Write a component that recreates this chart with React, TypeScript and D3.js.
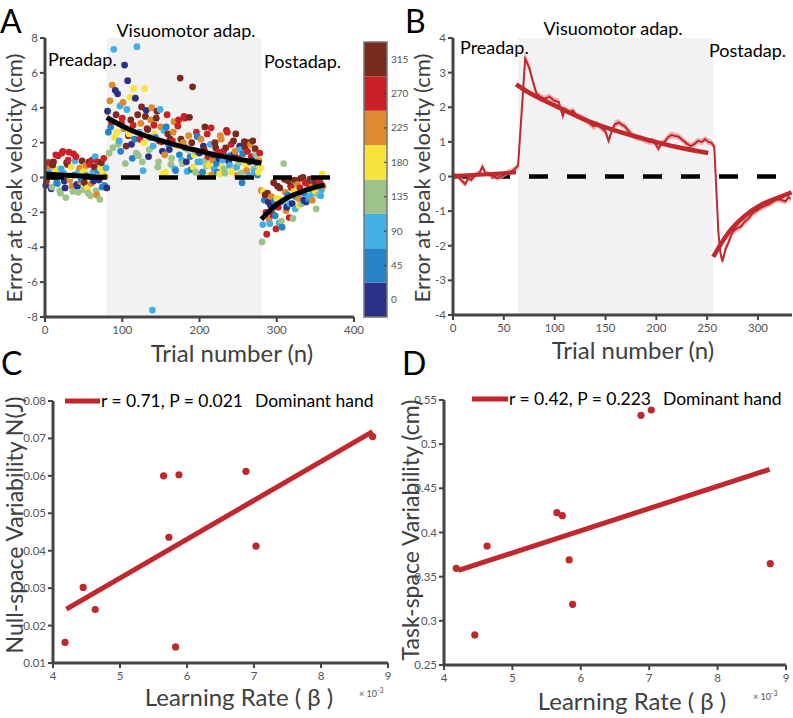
import React from 'react';
import * as d3 from 'd3';

const FONT = 'Lato, "Open Sans", sans-serif';
const AXIS = '#444';
const TICK_TEXT = '#555';
const RED = '#c1272d';

// * Panel A: single-trial errors, direction index 0..7
// odd trials 1..359
const trialsA = d3.range(1, 360, 2);
const errorA = [
  // preadaptation
  -0.45, 0.6, 0.85, 0.2, -0.55, 0.9, 0.35, -0.3, 1.25, -0.75,
  0.5, 1.5, -0.2, -1.15, 0.75, 1.45, 0.1, -0.5, 1.35, 0.95,
  -0.4, -0.85, 0.55, -0.1, 0.3, -0.3, 0.7, -0.6, 0.9, -1.05,
  1.0, -0.2, 1.2, -1.0, 0.4, -1.25, 0.85, 0.25, -0.45, 0.55,
  // visuomotor adaptation
  3.8, 1.4, 2.9, 5.3, 7.35, 5.0, 2.6, 1.9, 4.1, 3.1,
  4.3, 6.45, 1.8, 5.55, 2.5, 3.3, 1.1, 5.1, 4.55, 7.5,
  1.25, 2.2, 4.05, 0.4, 5.1, 3.85, 2.75, 1.6, 3.3, -7.6,
  3.0, 2.3, 3.8, 0.9, 3.9, 2.05, 0.25, 1.3, 2.9, 2.5,
  1.6, 0.75, 2.1, 3.2, 0.4, 1.85, 3.3, 5.7, 1.0, 2.0,
  3.4, 0.9, 1.6, 3.45, 0.45, 5.2, 1.3, 0.3, 2.35, 1.45,
  0.9, 0.2, 1.8, 2.9, 0.65, 1.2, 0.15, 2.85, 1.0, 0.5,
  1.7, 0.3, 1.1, 2.4, 0.6, 1.5, 0.25, 2.7, 1.2, 0.7,
  1.9, 0.4, 1.35, 2.5, 0.1, 0.85, 1.6, -0.3, 1.0, 1.75,
  0.4, 2.0, 0.9, 1.2, 2.1, 0.35, 1.3, 0.15, 0.95, 0.55,
  // postadaptation
  -3.7, -0.8, -1.0, -3.25, -1.4, -2.65, -1.1, -2.15, -1.35, -2.95,
  -0.5, -2.6, -1.25, -2.85, 0.8, -0.85, -1.7, -0.2, -1.5, -0.6,
  -2.35, -0.15, -1.1, -0.4, -1.6, -0.05, -0.9, -1.3, -0.3, -0.7,
  -1.25, -0.1, -0.55, -0.9, -0.25, -1.8, -0.6, -0.15, -1.05, 0.2,
];
const dirA = [
  0, 5, 6, 2, 3, 7, 4, 1, 6, 3,
  2, 6, 0, 3, 7, 6, 4, 5, 6, 2,
  0, 3, 5, 1, 4, 7, 5, 4, 7, 3,
  6, 0, 2, 5, 1, 3, 7, 4, 1, 2,
  0, 3, 1, 5, 2, 0, 4, 3, 2, 6,
  5, 0, 7, 0, 4, 7, 1, 4, 0, 2,
  3, 6, 7, 2, 4, 0, 7, 3, 5, 2,
  6, 1, 7, 3, 2, 6, 4, 5, 1, 7,
  0, 3, 6, 5, 1, 4, 6, 7, 2, 5,
  6, 0, 3, 7, 1, 7, 4, 3, 1, 6,
  2, 5, 0, 7, 3, 6, 4, 6, 5, 2,
  7, 1, 0, 5, 4, 6, 3, 7, 1, 2,
  6, 4, 0, 7, 5, 3, 2, 1, 4, 7,
  5, 7, 0, 6, 7, 2, 3, 1, 5, 4,
  3, 4, 7, 6, 0, 2, 5, 6, 1, 6,
  7, 2, 4, 1, 3, 5, 0, 7, 2, 6,
  3, 7, 1, 5, 4, 7, 2, 0, 6, 3,
  1, 7, 5, 2, 7, 3, 4, 6, 2, 4,
];
// even trials 2..360
const trialsA2 = d3.range(2, 361, 2);
const errorA2 = [
  // preadaptation
  -0.2, 0.9, 0.3, -0.65, 0.7, 0.05, 1.3, -0.35, 0.5, -0.9,
  1.4, 0.25, -0.6, 0.85, 1.0, -0.15, 0.6, -0.8, 0.15, 1.2,
  -0.5, 0.4, -0.25, 0.95, -0.7, 0.45, 0.1, -0.9, 0.75, -0.35,
  0.3, 0.6, -0.75, 0.9, -0.15, 0.5, -0.55, 1.1, 0.05, -0.6,
  // visuomotor adaptation
  2.6, 4.4, 3.2, 1.7, 2.3, 3.6, 4.8, 2.1, 1.5, 3.4,
  2.8, 0.8, 3.9, 2.4, 4.6, 1.9, 3.0, 2.2, 1.4, 3.6,
  2.6, 3.1, 0.9, 2.0, 3.5, 2.8, 1.2, 2.3, 4.0, 1.8,
  2.5, 3.4, 0.6, 2.1, 2.9, 1.5, 2.7, 0.3, 3.6, 1.9,
  2.2, 1.1, 2.6, 0.5, 1.8, 2.95, 1.3, 2.2, 0.8, 3.5,
  1.7, 0.35, 2.4, 1.2, 2.0, 0.6, 1.5, 2.6, 0.9, 1.4,
  2.2, 0.3, 1.6, 1.0, 2.5, 0.7, 1.9, 0.15, 1.3, 2.0,
  0.8, 1.45, 0.2, 2.2, 1.0, 0.5, 1.7, 2.6, 0.9, 1.25,
  0.3, 2.1, 1.5, 0.6, 1.1, 1.8, 0.25, 1.35, 2.05, 0.7,
  1.5, 0.1, 1.9, 1.0, 0.5, 1.65, 0.85, 0.3, 1.4, -0.75,
  // postadaptation
  -2.7, -1.3, -2.0, -0.9, -2.4, -1.6, -1.9, -0.3, -2.2, -1.2,
  -1.7, -0.6, -2.5, -1.4, -0.1, -1.9, -1.0, -2.3, -0.5, -1.5,
  -0.8, -1.8, -0.2, -1.2, -0.6, -1.5, 0.0, -0.9, -1.4, -0.35,
  -1.1, -0.6, -1.3, -0.2, -0.8, -0.45, -1.0, -0.3, -0.7, -0.5,
];
const dirA2 = [
  6, 3, 2, 0, 7, 5, 6, 1, 4, 3,
  6, 2, 0, 7, 6, 5, 4, 3, 1, 6,
  0, 2, 5, 7, 3, 4, 1, 3, 6, 5,
  2, 7, 3, 6, 0, 4, 1, 6, 5, 0,
  1, 5, 6, 3, 4, 7, 0, 2, 1, 6,
  5, 3, 2, 7, 4, 0, 6, 1, 3, 7,
  2, 5, 3, 4, 7, 6, 0, 1, 5, 2,
  4, 7, 3, 6, 5, 0, 2, 4, 6, 1,
  7, 3, 5, 2, 4, 6, 1, 7, 3, 6,
  0, 2, 5, 1, 7, 4, 3, 6, 2, 0,
  5, 1, 7, 3, 6, 4, 2, 5, 0, 7,
  1, 6, 4, 5, 2, 3, 7, 6, 0, 1,
  4, 7, 5, 2, 6, 0, 3, 1, 7, 4,
  6, 2, 5, 0, 3, 7, 1, 4, 6, 5,
  2, 1, 6, 7, 5, 0, 2, 7, 1, 4,
  6, 7, 3, 2, 7, 5, 1, 6, 7, 0,
  4, 2, 7, 5, 6, 3, 7, 1, 0, 6,
  2, 7, 5, 1, 4, 7, 3, 6, 2, 5,
];

const dirLabels = [0, 45, 90, 135, 180, 225, 270, 315];
const dirColors = ['#2d3087', '#2584c5', '#40b0e6', '#9dc38b', '#f6e43b', '#de8a2e', '#cc2027', '#7b2a1e'];

// exponential fits (sampled) for panel A
const fitPreTrialsA = [0, 20, 40, 60, 80];
const fitPreValuesA = [0.2, 0.15, 0.1, 0.05, 0.02];
const fitAdaTrialsA = [80, 100, 120, 140, 160, 180, 200, 220, 240, 260, 280];
const fitAdaValuesA = [3.44, 2.95, 2.55, 2.25, 1.98, 1.73, 1.52, 1.3, 1.13, 0.97, 0.83];
const fitPostTrialsA = [280, 290, 300, 315, 330, 345, 362];
const fitPostValuesA = [-2.4, -1.95, -1.55, -1.13, -0.85, -0.62, -0.42];

// * Panel B: group mean error with SEM
const trialsB = [
  0, 5, 8, 12, 15, 18, 22, 26, 29, 32,
  36, 40, 44, 47, 50, 54, 58, 62, 64, 71,
  75, 78, 82, 86, 90, 95, 99, 104, 108, 110,
  114, 118, 122, 126, 130, 134, 138, 142, 146, 150,
  153, 156, 159, 163, 166, 169, 173, 177, 181, 185,
  189, 193, 196, 199, 202, 205, 208, 212, 215, 219,
  222, 226, 230, 234, 238, 241, 245, 248, 251, 254,
  257, 261, 263, 265, 268, 271, 275, 279, 283, 287,
  291, 295, 299, 303, 307, 311, 315, 319, 323, 327,
  330, 332,
];
const meanB = [
  0.05, 0.0, -0.1, -0.22, -0.05, -0.1, 0.05, 0.1, 0.28, 0.1,
  0.05, 0.0, -0.05, 0.0, 0.05, 0.12, 0.15, 0.25, 0.3, 3.4,
  3.15, 2.8, 2.4, 2.3, 2.25, 2.3, 2.2, 2.15, 1.75, 1.95,
  1.85, 1.9, 1.75, 1.7, 1.65, 1.55, 1.45, 1.5, 1.4, 1.3,
  1.03, 1.3, 1.5, 1.56, 1.5, 1.45, 1.3, 1.18, 1.13, 1.1,
  1.05, 1.0, 1.03, 0.95, 0.8, 0.95, 1.0, 1.15, 1.2, 1.17,
  1.15, 1.05, 0.95, 0.88, 0.95, 1.03, 1.0, 1.08, 1.0, 0.98,
  0.86, -1.6, -2.2, -2.45, -2.1, -1.9, -1.6, -1.5, -1.45, -1.3,
  -1.2, -1.05, -0.98, -0.9, -0.85, -0.8, -0.72, -0.66, -0.68, -0.72,
  -0.6, -0.65,
];
const semB = [
  0.08, 0.07, 0.09, 0.1, 0.08, 0.07, 0.08, 0.09, 0.1, 0.08,
  0.07, 0.08, 0.07, 0.08, 0.07, 0.08, 0.09, 0.1, 0.1, 0.14,
  0.13, 0.12, 0.1, 0.1, 0.09, 0.1, 0.1, 0.11, 0.12, 0.1,
  0.09, 0.1, 0.09, 0.1, 0.09, 0.1, 0.11, 0.1, 0.09, 0.1,
  0.12, 0.1, 0.11, 0.1, 0.09, 0.1, 0.1, 0.09, 0.1, 0.09,
  0.1, 0.09, 0.1, 0.09, 0.11, 0.1, 0.09, 0.1, 0.1, 0.09,
  0.1, 0.09, 0.1, 0.09, 0.1, 0.09, 0.1, 0.09, 0.1, 0.09,
  0.1, 0.14, 0.13, 0.13, 0.12, 0.11, 0.1, 0.1, 0.09, 0.1,
  0.09, 0.1, 0.09, 0.08, 0.09, 0.08, 0.09, 0.08, 0.09, 0.08,
  0.08, 0.09,
];
const fitPreTrialsB = [0, 30, 62];
const fitPreValuesB = [0.02, 0.06, 0.12];
const fitAdaTrialsB = [62, 72, 100, 133, 150, 189, 220, 251];
const fitAdaValuesB = [2.66, 2.47, 2.05, 1.6, 1.42, 1.08, 0.85, 0.68];
const fitPostTrialsB = [256, 271, 287, 304, 320, 333];
const fitPostValuesB = [-2.32, -1.62, -1.14, -0.8, -0.61, -0.46];

// * Panels C and D: per-subject learning rate (x 10^-3)
const learningRate = [4.18, 4.45, 4.63, 5.65, 5.73, 5.83, 5.88, 6.88, 7.03, 8.77];
const nullSpaceVar = [0.0155, 0.0302, 0.0243, 0.06, 0.0436, 0.0143, 0.0603, 0.0612, 0.0412, 0.0705];
const taskSpaceVar = [0.3595, 0.284, 0.3847, 0.4224, 0.419, 0.369, 0.3187, 0.5326, 0.5387, 0.3647];
const fitC = { x: [4.2, 8.77], y: [0.0244, 0.0718] };
const fitD = { x: [4.21, 8.76], y: [0.357, 0.4715] };

const ticksYA = [-8, -6, -4, -2, 0, 2, 4, 6, 8];
const ticksXA = [0, 100, 200, 300, 400];
const ticksYB = [-4, -3, -2, -1, 0, 1, 2, 3, 4];
const ticksXB = [0, 50, 100, 150, 200, 250, 300];
const ticksXCD = [4, 5, 6, 7, 8, 9];
const ticksYC = [0.01, 0.02, 0.03, 0.04, 0.05, 0.06, 0.07, 0.08];
const ticksYD = [0.25, 0.3, 0.35, 0.4, 0.45, 0.5, 0.55];

// scales
const xA = d3.scaleLinear().domain([0, 400]).range([45, 354]);
const yA = d3.scaleLinear().domain([-8, 8]).range([317, 38]);
const xB = d3.scaleLinear().domain([0, 300]).range([453, 758]);
const yB = d3.scaleLinear().domain([-4, 4]).range([315, 38]);
const xC = d3.scaleLinear().domain([4, 9]).range([53, 388]);
const yC = d3.scaleLinear().domain([0.01, 0.08]).range([663, 401]);
const xD = d3.scaleLinear().domain([4, 9]).range([444, 786]);
const yD = d3.scaleLinear().domain([0.25, 0.55]).range([665, 400]);
const cbScale = d3.scaleBand<number>().domain([...dirLabels].reverse()).range([42, 317]);

function pathOf(xs: number[], ys: number[], sx: any, sy: any, curve = d3.curveMonotoneX) {
  const pts = xs.map((x, i) => [x, ys[i]] as [number, number]);
  return d3.line<[number, number]>().x(d => sx(d[0])).y(d => sy(d[1])).curve(curve)(pts) || '';
}

function LeftAxis({ scale, x, ticks, fmt }: any) {
  const [a, b] = scale.range();
  return (
    <g>
      <line x1={x} x2={x} y1={Math.min(a, b)} y2={Math.max(a, b)} stroke={AXIS} strokeWidth={3} />
      {ticks.map((t: number) => (
        <g key={t}>
          <line x1={x - 5} x2={x} y1={scale(t)} y2={scale(t)} stroke={AXIS} strokeWidth={2} />
          <text x={x - 7} y={scale(t)} dy="0.35em" textAnchor="end" fontSize={11.5} fill={TICK_TEXT}>{fmt(t)}</text>
        </g>
      ))}
    </g>
  );
}

function BottomAxis({ scale, y, ticks, x0, x1 }: any) {
  return (
    <g>
      <line x1={x0 - 1.5} x2={x1} y1={y} y2={y} stroke={AXIS} strokeWidth={3} />
      {ticks.map((t: number) => (
        <g key={t}>
          <line x1={scale(t)} x2={scale(t)} y1={y} y2={y + 5} stroke={AXIS} strokeWidth={2} />
          <text x={scale(t)} y={y + 17} textAnchor="middle" fontSize={11.5} fill={TICK_TEXT}>{t}</text>
        </g>
      ))}
    </g>
  );
}

function YLabel({ x, y, text, size = 22 }: any) {
  return (
    <text transform={`translate(${x},${y}) rotate(-90)`} textAnchor="middle" fontSize={size} fill="#404040">{text}</text>
  );
}

export default function App() {
  const bandB = d3.area<number>()
    .x((_, i) => xB(trialsB[i]))
    .y0((d, i) => yB(d - semB[i]))
    .y1((d, i) => yB(d + semB[i]))(meanB) || '';
  const meanPathB = pathOf(trialsB, meanB, xB, yB, d3.curveLinear);

  // interleave odd and even trials so they are drawn in trial order
  const dotsA = [
    ...trialsA.map((t, i) => ({ t, v: errorA[i], d: dirA[i] })),
    ...trialsA2.map((t, i) => ({ t, v: errorA2[i], d: dirA2[i] })),
  ].sort((a, b) => a.t - b.t);

  return (
    <div style={{ position: 'absolute', left: 0, top: 0 }}>
      <svg width={793} height={718} fontFamily={FONT} style={{ display: 'block', background: '#fff' }}>
        {/* ===== Panel A ===== */}
        <rect x={xA(80)} y={yA(8)} width={xA(280) - xA(80)} height={yA(-8) - yA(8)} fill="#f2f2f2" />
        {dotsA.map(p => (
          <circle key={p.t} cx={xA(p.t)} cy={yA(p.v)} r={3.4} fill={dirColors[p.d]} />
        ))}
        <line x1={xA(0)} x2={xA(375)} y1={yA(0)} y2={yA(0)} stroke="#000" strokeWidth={4.5} strokeDasharray="19,19" />
        <path d={pathOf(fitPreTrialsA, fitPreValuesA, xA, yA)} fill="none" stroke="#000" strokeWidth={5} />
        <path d={pathOf(fitAdaTrialsA, fitAdaValuesA, xA, yA)} fill="none" stroke="#000" strokeWidth={5} />
        <path d={pathOf(fitPostTrialsA, fitPostValuesA, xA, yA)} fill="none" stroke="#000" strokeWidth={5} />
        <LeftAxis scale={yA} x={xA(0)} ticks={ticksYA} fmt={(t: number) => String(t)} />
        <BottomAxis scale={xA} y={yA(-8)} ticks={ticksXA} x0={xA(0)} x1={xA(400)} />
        <text x={186} y={37} textAnchor="middle" fontSize={18}>Visuomotor adap.</text>
        <text x={48} y={66} fontSize={18}>Preadap.</text>
        <text x={264} y={68} fontSize={18}>Postadap.</text>
        <YLabel x={22} y={178} text="Error at peak velocity (cm)" />
        <text x={232} y={362} textAnchor="middle" fontSize={24} fill="#404040">Trial number (n)</text>
        <text x={0} y={33} fontSize={32}>A</text>

        {/* colorbar */}
        {dirLabels.map((d, i) => (
          <g key={d}>
            <rect x={364} y={cbScale(d)} width={23} height={cbScale.bandwidth()} fill={dirColors[i]} />
            <line x1={384} x2={387} y1={cbScale(d)! + cbScale.bandwidth() / 2} y2={cbScale(d)! + cbScale.bandwidth() / 2} stroke="#333" strokeWidth={1} />
            <text x={391} y={cbScale(d)! + cbScale.bandwidth() / 2} dy="0.35em" fontSize={10} fill={TICK_TEXT}>{d}</text>
          </g>
        ))}
        <rect x={364} y={42} width={23} height={275} fill="none" stroke="#777" strokeWidth={1.5} />

        {/* ===== Panel B ===== */}
        <rect x={xB(64)} y={yB(4)} width={xB(256) - xB(64)} height={yB(-4) - yB(4)} fill="#f2f2f2" />
        <line x1={xB(0)} x2={xB(335)} y1={yB(0)} y2={yB(0)} stroke="#000" strokeWidth={4.5} strokeDasharray="19,19" />
        <path d={bandB} fill="#e8a0a0" opacity={0.8} />
        <path d={meanPathB} fill="none" stroke={RED} strokeWidth={2} />
        <path d={pathOf(fitPreTrialsB, fitPreValuesB, xB, yB)} fill="none" stroke={RED} strokeWidth={4} />
        <path d={pathOf(fitAdaTrialsB, fitAdaValuesB, xB, yB)} fill="none" stroke={RED} strokeWidth={4.5} />
        <path d={pathOf(fitPostTrialsB, fitPostValuesB, xB, yB)} fill="none" stroke={RED} strokeWidth={4.5} />
        <LeftAxis scale={yB} x={xB(0)} ticks={ticksYB} fmt={(t: number) => String(t)} />
        <BottomAxis scale={xB} y={yB(-4)} ticks={ticksXB} x0={xB(0)} x1={792} />
        <text x={613} y={35} textAnchor="middle" fontSize={18}>Visuomotor adap.</text>
        <text x={460} y={54} fontSize={18}>Preadap.</text>
        <text x={709} y={57} fontSize={18}>Postadap.</text>
        <YLabel x={430} y={178} text="Error at peak velocity (cm)" />
        <text x={633} y={359} textAnchor="middle" fontSize={24} fill="#404040">Trial number (n)</text>
        <text x={405} y={33} fontSize={32}>B</text>

        {/* ===== Panel C ===== */}
        <path d={pathOf(fitC.x, fitC.y, xC, yC, d3.curveLinear)} fill="none" stroke={RED} strokeWidth={5} />
        {learningRate.map((lr, i) => (
          <circle key={i} cx={xC(lr)} cy={yC(nullSpaceVar[i])} r={3.6} fill={RED} />
        ))}
        <LeftAxis scale={yC} x={xC(4)} ticks={ticksYC} fmt={d3.format('.2f')} />
        <BottomAxis scale={xC} y={yC(0.01)} ticks={ticksXCD} x0={xC(4)} x1={xC(9)} />
        <line x1={65} x2={100} y1={401} y2={401} stroke={RED} strokeWidth={5} />
        <text x={101} y={407} fontSize={17.5}>r = 0.71, P = 0.021</text>
        <text x={255} y={407} fontSize={17.5}>Dominant hand</text>
        <YLabel x={23} y={525} text="Null-space Variability N(J)" size={23} />
        <text x={239} y={706} textAnchor="middle" fontSize={24} fill="#404040">Learning Rate ( β )</text>
        <text x={359} y={697} fontSize={9} fill={TICK_TEXT}>× 10<tspan dy={-4} fontSize={7}>-3</tspan></text>
        <text x={1} y={375} fontSize={32}>C</text>

        {/* ===== Panel D ===== */}
        <path d={pathOf(fitD.x, fitD.y, xD, yD, d3.curveLinear)} fill="none" stroke={RED} strokeWidth={5} />
        {learningRate.map((lr, i) => (
          <circle key={i} cx={xD(lr)} cy={yD(taskSpaceVar[i])} r={3.6} fill={RED} />
        ))}
        <LeftAxis scale={yD} x={xD(4)} ticks={ticksYD} fmt={(t: number) => String(t)} />
        <BottomAxis scale={xD} y={yD(0.25)} ticks={ticksXCD} x0={xD(4)} x1={xD(9)} />
        <line x1={472} x2={508} y1={399} y2={399} stroke={RED} strokeWidth={5} />
        <text x={509} y={405} fontSize={17.5}>r = 0.42, P = 0.223</text>
        <text x={663} y={405} fontSize={17.5}>Dominant hand</text>
        <YLabel x={419} y={530} text="Task-space Variability (cm)" size={23} />
        <text x={632} y={710} textAnchor="middle" fontSize={24} fill="#404040">Learning Rate ( β )</text>
        <text x={753} y={700} fontSize={9} fill={TICK_TEXT}>× 10<tspan dy={-4} fontSize={7}>-3</tspan></text>
        <text x={402} y={375} fontSize={32}>D</text>
      </svg>
    </div>
  );
}
